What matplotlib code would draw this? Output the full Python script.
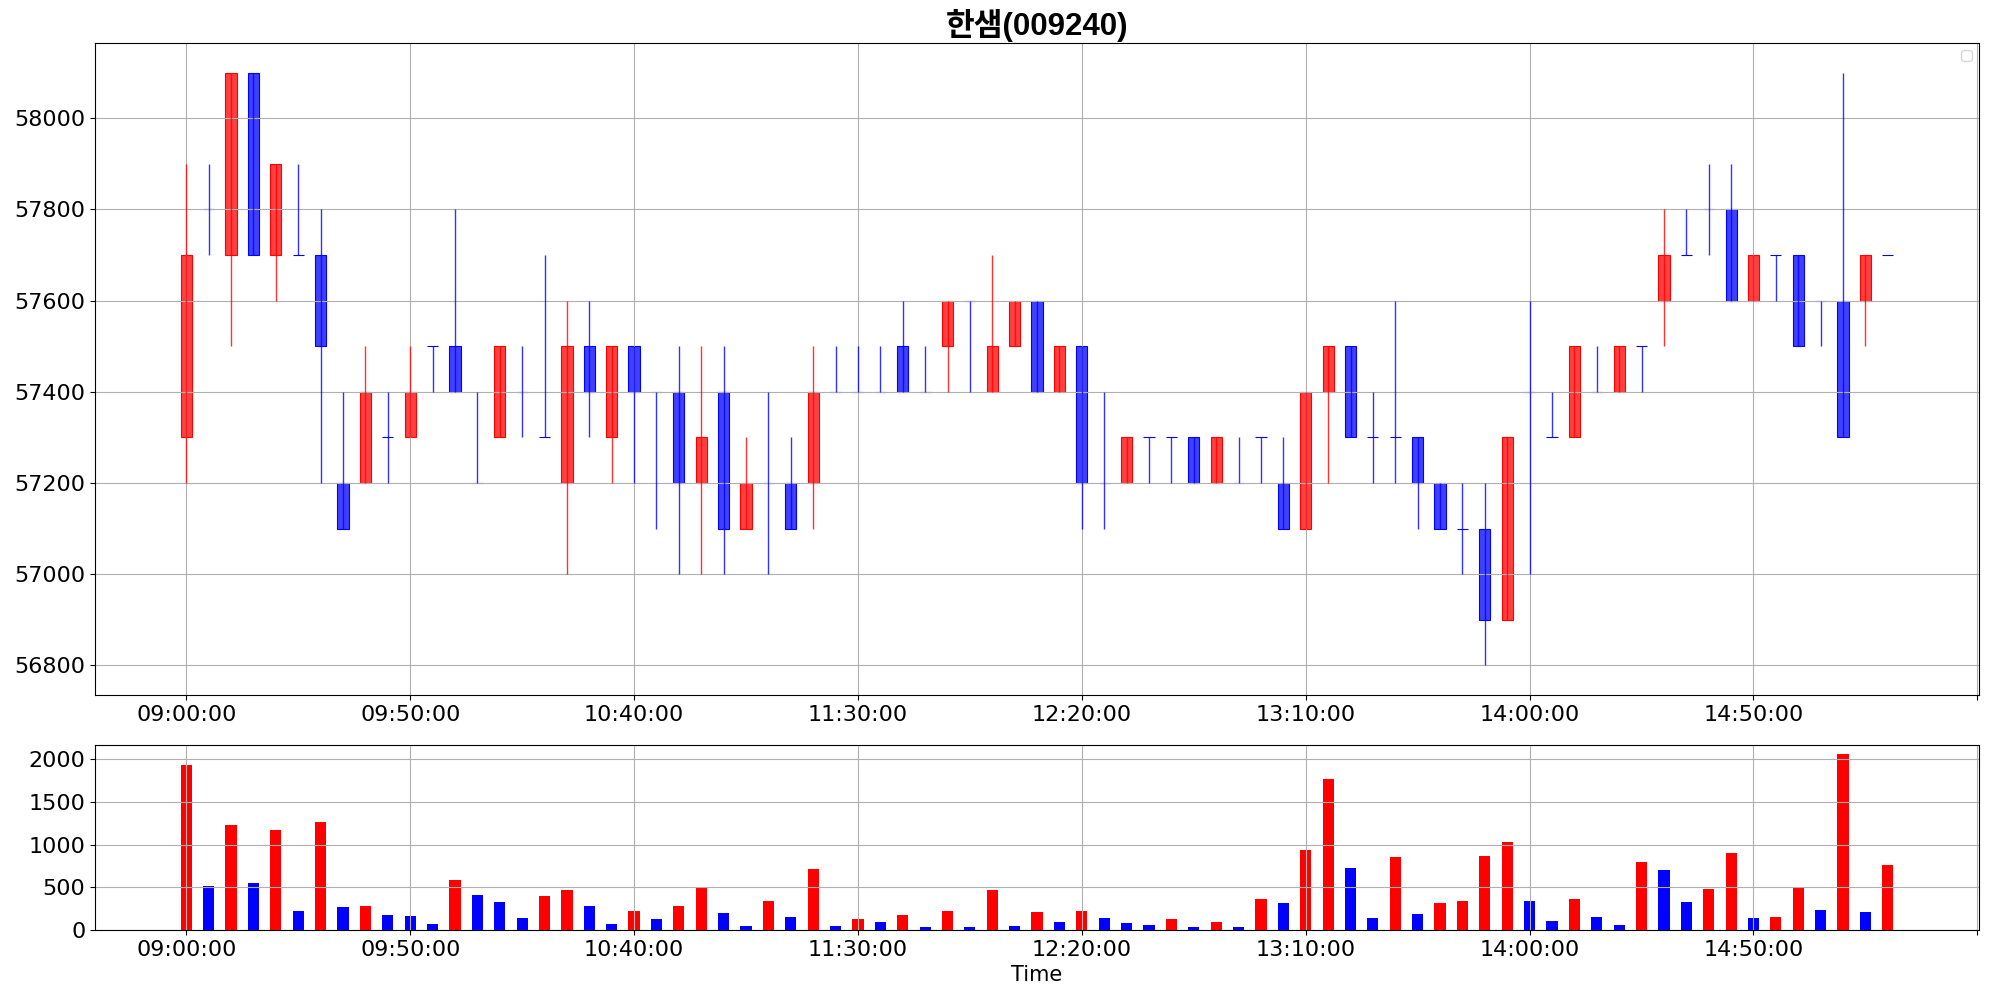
import matplotlib
matplotlib.use('Agg')
import matplotlib.pyplot as plt
import matplotlib.colors as mcolors
from matplotlib.ticker import MultipleLocator, FuncFormatter
import pandas as pd

# 5분봉 (09:00 ~ 15:20)
times = pd.date_range('2000-01-01 09:00', periods=77, freq='5min').strftime('%H:%M:%S').tolist()

opens = [57300, 57800, 57700, 58100, 57700, 57700, 57700, 57200, 57200, 57300,
         57300, 57500, 57500, 57200, 57300, 57400, 57300, 57200, 57500, 57300,
         57500, 57400, 57400, 57200, 57400, 57100, 57200, 57200, 57200, 57400,
         57400, 57400, 57500, 57400, 57500, 57600, 57400, 57500, 57600, 57400,
         57500, 57200, 57200, 57300, 57300, 57300, 57200, 57200, 57300, 57200,
         57100, 57400, 57500, 57300, 57300, 57300, 57200, 57100, 57100, 56900,
         57400, 57300, 57300, 57400, 57400, 57500, 57600, 57700, 57800, 57800,
         57600, 57700, 57700, 57600, 57600, 57600, 57700]
closes = [57700, 57800, 58100, 57700, 57900, 57700, 57500, 57100, 57400, 57300,
          57400, 57500, 57400, 57200, 57500, 57400, 57300, 57500, 57400, 57500,
          57400, 57400, 57200, 57300, 57100, 57200, 57200, 57100, 57400, 57400,
          57400, 57400, 57400, 57400, 57600, 57600, 57500, 57600, 57400, 57500,
          57200, 57200, 57300, 57300, 57300, 57200, 57300, 57200, 57300, 57100,
          57400, 57500, 57300, 57300, 57300, 57200, 57100, 57100, 56900, 57300,
          57400, 57300, 57500, 57400, 57500, 57500, 57700, 57700, 57800, 57600,
          57700, 57700, 57500, 57600, 57300, 57700, 57700]
highs = [57900, 57900, 58100, 58100, 57900, 57900, 57800, 57400, 57500, 57400,
         57500, 57500, 57800, 57400, 57500, 57500, 57700, 57600, 57600, 57500,
         57500, 57400, 57500, 57500, 57500, 57300, 57400, 57300, 57500, 57500,
         57500, 57500, 57600, 57500, 57600, 57600, 57700, 57600, 57600, 57500,
         57500, 57400, 57300, 57300, 57300, 57300, 57300, 57300, 57300, 57300,
         57400, 57500, 57500, 57400, 57600, 57300, 57200, 57200, 57200, 57300,
         57600, 57400, 57500, 57500, 57500, 57500, 57800, 57800, 57900, 57900,
         57700, 57700, 57700, 57600, 58100, 57700, 57700]
lows = [57200, 57700, 57500, 57700, 57600, 57700, 57200, 57100, 57200, 57200,
        57300, 57400, 57400, 57200, 57300, 57300, 57300, 57000, 57300, 57200,
        57200, 57100, 57000, 57000, 57000, 57100, 57000, 57100, 57100, 57400,
        57400, 57400, 57400, 57400, 57400, 57400, 57400, 57500, 57400, 57400,
        57100, 57100, 57200, 57200, 57200, 57200, 57200, 57200, 57200, 57100,
        57100, 57200, 57300, 57200, 57200, 57100, 57100, 57000, 56800, 56900,
        57000, 57300, 57300, 57400, 57400, 57400, 57500, 57700, 57700, 57600,
        57600, 57600, 57500, 57500, 57300, 57500, 57700]
volumes = [1938, 514, 1226, 549, 1167, 222, 1261, 268, 280, 175,
           163, 70, 584, 409, 327, 140, 397, 467, 280, 70,
           222, 128, 280, 490, 198, 47, 339, 152, 712, 47,
           128, 93, 175, 35, 222, 35, 467, 47, 210, 93,
           222, 140, 82, 58, 128, 35, 93, 35, 362, 315,
           934, 1774, 724, 140, 852, 187, 315, 339, 864, 1027,
           339, 105, 362, 152, 58, 794, 700, 327, 479, 899,
           140, 152, 490, 233, 2066, 210, 759]

x = list(range(len(times)))
candle_colors = ['red' if c > o else 'blue' for o, c in zip(opens, closes)]
vol_colors = ['red' if v > p else 'blue' for v, p in zip(volumes, [0] + volumes[:-1])]

fig = plt.figure(figsize=(19.89, 9.98), dpi=100)
ax = fig.add_axes([0.0478, 0.3036, 0.9472, 0.6533])
ax2 = fig.add_axes([0.0478, 0.0681, 0.9472, 0.1854], sharex=ax)

# 캔들
ax.use_sticky_edges = False  # 몸통 bottom 때문에 위쪽 여백이 잘리는 것 방지
ax.vlines(x, lows, highs, colors=candle_colors, linewidth=1, alpha=0.8)
ax.bar(x, [c - o for o, c in zip(opens, closes)], bottom=opens, width=0.5,
       color=[mcolors.to_rgba(c, 0.75) for c in candle_colors],
       edgecolor=candle_colors, linewidth=0.8)
ax.set_title('한샘(009240)', fontsize=22.5, fontweight='bold',
             family=['Liberation Sans', 'Noto Sans CJK KR'])
ax.grid(True)
ax.legend(loc='upper right')

# 거래량
ax2.bar(x, volumes, width=0.5, color=vol_colors)
ax2.yaxis.set_major_locator(MultipleLocator(500))
ax2.grid(True)
ax2.set_xlabel('Time', fontsize=15)

def time_fmt(v, pos):
    i = int(round(v))
    return times[i] if 0 <= i < len(times) else ''

ax.xaxis.set_major_locator(MultipleLocator(10))
ax.xaxis.set_major_formatter(FuncFormatter(time_fmt))
for a in (ax, ax2):
    a.tick_params(labelsize=16)

plt.savefig('out.png', dpi=100)
